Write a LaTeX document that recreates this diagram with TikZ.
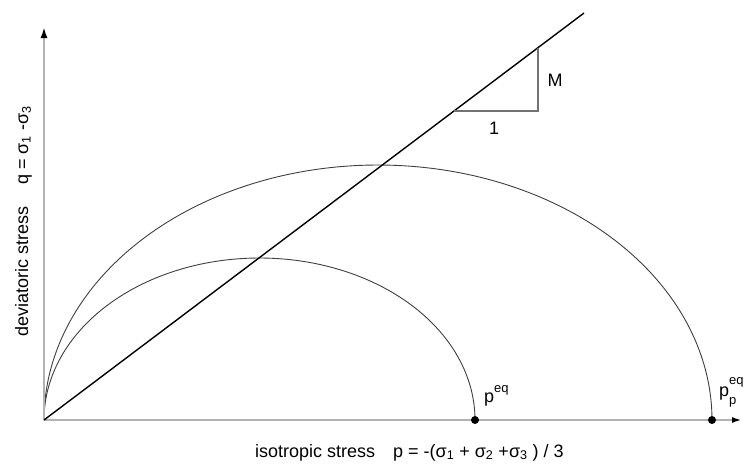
\documentclass[tikz,border=0pt]{standalone}
\usepackage{fontspec}
\setmainfont{Liberation Sans}
\usetikzlibrary{arrows.meta}
\begin{document}
\begin{tikzpicture}[x=1pt,y=-1pt,
  axis/.style={draw=black!30,line width=2pt},
  curve/.style={draw=black!75,line width=0.9pt},
  mline/.style={draw=black,line width=1.4pt},
  tri/.style={draw=black!55,line width=1.2pt},
  lbl/.style={font=\fontsize{18}{20}\selectfont,inner sep=0pt},
  sml/.style={font=\fontsize{13}{14}\selectfont,inner sep=0pt},
  dot/.style={circle,fill=black,inner sep=0pt,minimum size=8pt}]
\useasboundingbox (0,0) rectangle (747,464);
\fill[white] (0,0) rectangle (747,464);
% coordinates
\coordinate (O) at (44,420);
\coordinate (Ytip) at (44,27);
\coordinate (Xtip) at (742,420);
\coordinate (Lend) at (584,13);
\coordinate (T1) at (454,111);
\coordinate (T2) at (538,111);
\coordinate (T3) at (538,47.7);
% curves
\draw[curve] plot[domain=180:0,samples=120,smooth] ({259.5+215.5*cos(\x)},{420-162*sin(\x)});
\draw[curve] plot[domain=180:0,samples=120,smooth] ({378+334*cos(\x)},{420-255*sin(\x)});
% axes
\draw[axis,-{Latex[black,length=11pt,width=7pt]}] (O) -- (Ytip);
\draw[axis,-{Latex[black,length=10pt,width=6pt]}] (O) -- (Xtip);
% line and triangle
\draw[mline] (O) -- (Lend);
\draw[tri] (T1) -- (T2) -- (T3);
\node[lbl] (M) at (555,80) {M};
\node[lbl] (one) at (494,128) {1};
% dots
\node[dot] (pe) at (475,420) {};
\node[dot] (ppe) at (712,420) {};
% labels
\node[lbl,anchor=base west] (peq) at (484,402) {p\raisebox{0.55em}{\fontsize{13}{14}\selectfont eq}};
\node[lbl,anchor=base west] (ppeq) at (719,396) {p\makebox[0pt][l]{\raisebox{0.65em}{\fontsize{13}{14}\selectfont eq}}\raisebox{-0.45em}{\fontsize{13}{14}\selectfont p}};
\node[lbl,anchor=base west] (xlab) at (255,457) {isotropic stress\hspace{18pt}p = -(σ\textsubscript{1} + σ\textsubscript{2} +σ\textsubscript{3} ) / 3};
\node[lbl,anchor=base west,rotate=90] (ylab) at (28,337) {deviatoric stress\hspace{22pt}q = σ\textsubscript{1} -σ\textsubscript{3}};
\end{tikzpicture}
\end{document}
